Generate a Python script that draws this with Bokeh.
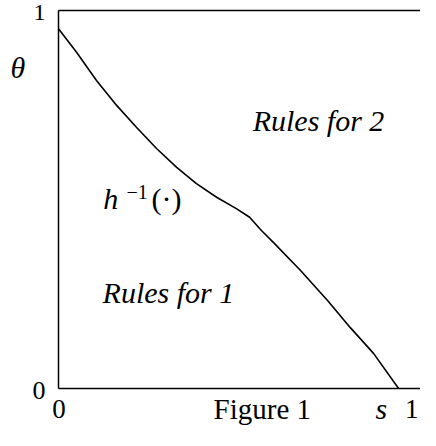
from bokeh.plotting import figure
from bokeh.models import Range1d, Label
from bokeh.embed import file_html
from bokeh.resources import INLINE

# boundary curve h^{-1}(.) : theta as a function of s
s_vals = [0.0, 0.047, 0.100, 0.153, 0.205, 0.258, 0.311, 0.363, 0.416, 0.468,
          0.503, 0.534, 0.566, 0.637, 0.708, 0.768, 0.829, 0.895]
theta_vals = [0.952, 0.890, 0.815, 0.749, 0.691, 0.635, 0.585, 0.542, 0.506, 0.476,
              0.453, 0.418, 0.386, 0.312, 0.233, 0.161, 0.093, 0.0]

y_ticks = [0, 1]
y_tick_labels = ["0", "1"]
x_ticks = [0, 1]
x_tick_labels = ["0", "1"]

FONT = "Liberation Serif"
W, H = 420, 430
LEFT, TOP, BOTTOM, XSCALE = 58, 10, 388, 380   # frame of the unit box in pixels
YSCALE = BOTTOM - TOP

x0 = -LEFT / XSCALE
x1 = (W - LEFT) / XSCALE
y0 = (BOTTOM - H) / YSCALE
y1 = BOTTOM / YSCALE

p = figure(width=W, height=H, output_backend="svg", toolbar_location=None,
           x_range=Range1d(x0, x1), y_range=Range1d(y0, y1),
           x_axis_location=None, y_axis_location=None, min_border=0)
p.outline_line_color = None
p.grid.visible = False
p.background_fill_color = "white"
p.border_fill_color = "white"

# unit box: left, bottom and top edges (right edge lies outside the picture)
p.line([x_ticks[0], x_ticks[0]], [y_ticks[0], y_ticks[-1]], line_color="black", line_width=1.5)
p.line([x_ticks[0], x_ticks[-1] + 0.05], [y_ticks[0], y_ticks[0]], line_color="black", line_width=1.5)
p.line([x_ticks[0], x_ticks[-1] + 0.05], [y_ticks[-1], y_ticks[-1]], line_color="black", line_width=1.5)

p.line(s_vals, theta_vals, line_color="black", line_width=1.6)

px = 1.0 / XSCALE
py = 1.0 / YSCALE

def lab(x, y, t, size=30, style="italic", align="left"):
    # raise by about a third of the font size so the glyph baseline lands at y
    p.add_layout(Label(x=x, y=y + 0.32 * size * py, text=t, text_font=FONT,
                       text_font_size=f"{size}px", text_font_style=style,
                       text_color="black", text_align=align,
                       text_baseline="alphabetic"))

# tick labels
lab(y_ticks[0] - 13 * px, y_ticks[0] - 10 * py, y_tick_labels[0], size=26, style="normal", align="right")
lab(y_ticks[0] - 13 * px, y_ticks[1] - 10 * py, y_tick_labels[1], size=24, style="normal", align="right")
lab(x_ticks[0] + 0.5 * px, -29 * py, x_tick_labels[0], size=27, style="normal", align="center")
lab(x1 - 2 * px, -29 * py, x_tick_labels[1], size=27, style="normal", align="right")

# annotations
lab(0.511, 0.683, "Rules for 2")
lab(0.116, 0.228, "Rules for 1")
lab(0.118, 0.476, "h")
lab(0.179, 0.503, "\u22121", size=20, style="normal")
lab(0.245, 0.476, "(\u00b7)", style="normal")
lab(-0.126, 0.823, "\u03b8")
lab(0.834, -30 * py, "s")
lab(0.408, -30 * py, "Figure 1", size=29, style="normal")

open("out.html", "w").write(file_html(p, INLINE))
